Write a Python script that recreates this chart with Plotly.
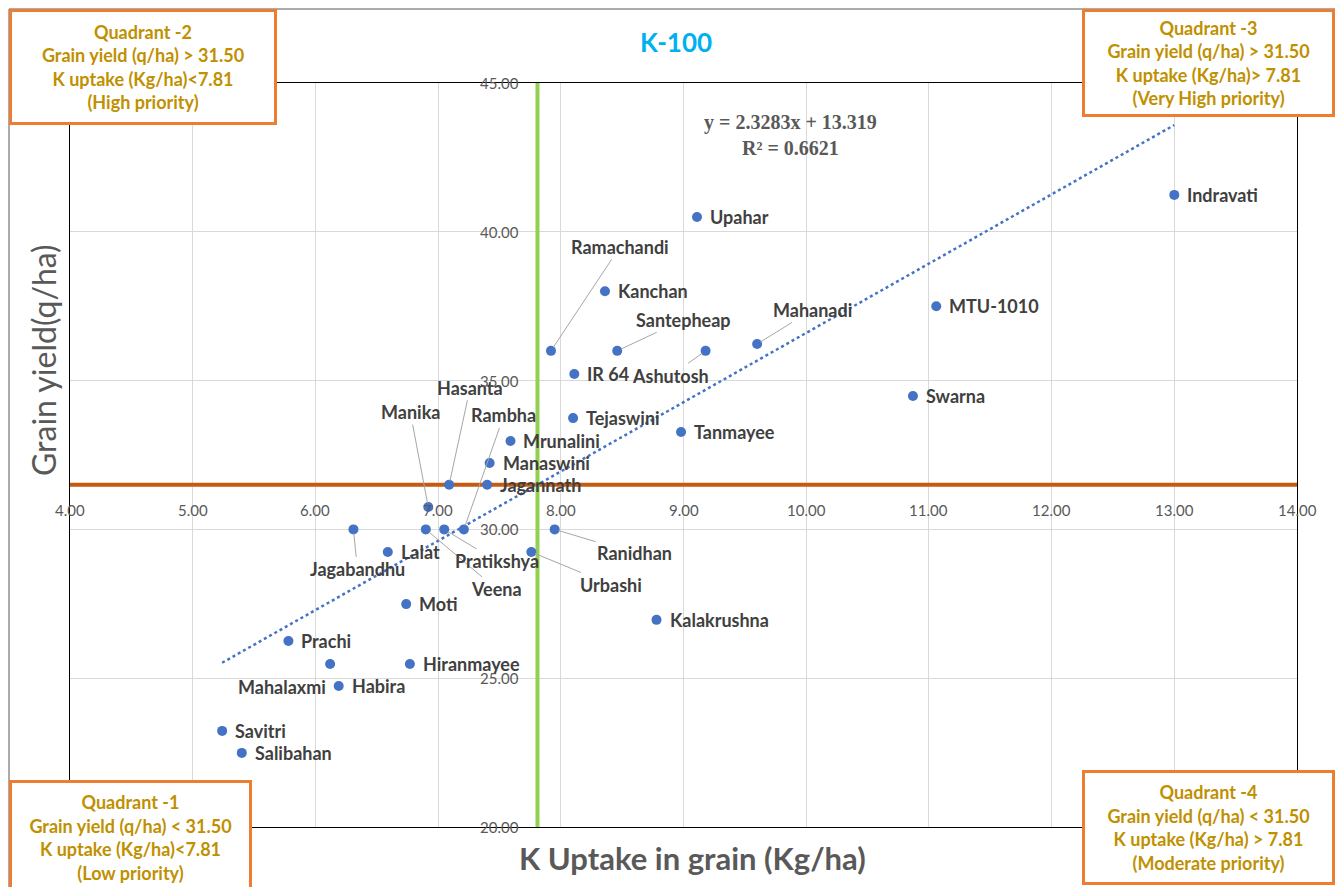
import plotly.graph_objects as go

# ---------------- data ----------------
varieties = ["Indravati", "Upahar", "Ramachandi", "Kanchan", "Santepheap", "Ashutosh",
             "Mahanadi", "MTU-1010", "IR 64", "Swarna", "Tejaswini", "Tanmayee",
             "Mrunalini", "Manaswini", "Jagannath", "Hasanta", "Manika", "Jagabandhu",
             "Veena", "Pratikshya", "Rambha", "Ranidhan", "Urbashi", "Lalat", "Moti",
             "Kalakrushna", "Prachi", "Mahalaxmi", "Hiranmayee", "Habira", "Savitri",
             "Salibahan"]
k_uptake = [13.00, 9.11, 7.92, 8.36, 8.46, 9.18,
            9.60, 11.06, 8.11, 10.87, 8.10, 8.98,
            7.59, 7.42, 7.40, 7.09, 6.92, 6.31,
            6.90, 7.05, 7.21, 7.95, 7.76, 6.59, 6.74,
            8.78, 5.78, 6.12, 6.77, 6.19, 5.24,
            5.40]
grain_yield = [41.24, 40.50, 36.00, 38.00, 36.00, 36.00,
               36.23, 37.50, 35.22, 34.48, 33.74, 33.27,
               32.97, 32.23, 31.50, 31.50, 30.75, 30.00,
               30.00, 30.00, 30.00, 30.00, 29.24, 29.24, 27.49,
               26.96, 26.25, 25.48, 25.48, 24.74, 23.23,
               22.49]

slope, intercept, r2 = 2.3283, 13.319, 0.6621
yield_threshold = 31.50
k_threshold = 7.81

x_ticks = [4, 5, 6, 7, 8, 9, 10, 11, 12, 13, 14]
y_ticks = [20, 25, 30, 35, 40, 45]

# label placement: (dx, dy in px) for labels with leader lines
label_pos = {
    "Ramachandi": (69, -104), "Santepheap": (66, -31),
    "Ashutosh": (-35, 25), "Mahanadi": (55, -34),
    "Hasanta": (21, -97), "Manika": (-18, -95),
    "Rambha": (40, -114), "Jagabandhu": (4, 40),
    "Veena": (71, 60), "Pratikshya": (53, 32),
    "Ranidhan": (80, 24), "Urbashi": (80, 33),
}

# ---------------- geometry helpers ----------------
OFF = 8                      # page body margin
W, H = 1343 - OFF, 887 - OFF
L, R, T, B = 70, 1297, 83, 827   # plot area in page pixels


def px(xp):
    return (xp - L) / (R - L)


def py(yp):
    return (B - yp) / (B - T)


FONT = "Lato"
LABEL_COLOR = "#404040"
TICK_COLOR = "#595959"
BOX_COLOR = "#ED7D31"
BOX_TEXT = "#BF9000"

fig = go.Figure()

# threshold lines
fig.add_trace(go.Scatter(x=[4, 14], y=[yield_threshold, yield_threshold], mode="lines",
                         line=dict(color="#C55A11", width=4), hoverinfo="skip", showlegend=False))
fig.add_trace(go.Scatter(x=[k_threshold, k_threshold], y=[20, 45], mode="lines",
                         line=dict(color="#92D050", width=4), hoverinfo="skip", showlegend=False))

# trendline
x0, x1 = min(k_uptake), max(k_uptake)
fig.add_trace(go.Scatter(x=[x0, x1], y=[slope * x0 + intercept, slope * x1 + intercept],
                         mode="lines", line=dict(color="#4472C4", width=2.5, dash="dot"),
                         hoverinfo="skip", showlegend=False))

# points
fig.add_trace(go.Scatter(x=k_uptake, y=grain_yield, mode="markers", text=varieties,
                         marker=dict(color="#4472C4", size=10), showlegend=False))

annotations = []
for name, xv, yv in zip(varieties, k_uptake, grain_yield):
    lbl_font = dict(family=FONT, size=18, color=LABEL_COLOR, weight="bold")
    if name in label_pos:
        dx, dy = label_pos[name]
        annotations.append(dict(x=xv, y=yv, xref="x", yref="y", text=name, showarrow=True,
                                arrowhead=0, arrowwidth=1, arrowcolor="#A6A6A6",
                                ax=dx, ay=dy, font=lbl_font, standoff=4))
    elif name == "Mahalaxmi":
        annotations.append(dict(x=xv, y=yv, xref="x", yref="y", text=name, showarrow=False,
                                xanchor="right", xshift=-2, yshift=-23, font=lbl_font))
    else:
        annotations.append(dict(x=xv, y=yv, xref="x", yref="y", text=name, showarrow=False,
                                xanchor="left", xshift=11, font=lbl_font))

# tick labels at axis crossings
for t in x_ticks:
    annotations.append(dict(x=t, y=yield_threshold, xref="x", yref="y", text=f"{t:.2f}",
                            showarrow=False, yshift=-25,
                            font=dict(family=FONT, size=15, color=TICK_COLOR)))
for t in y_ticks:
    annotations.append(dict(x=k_threshold, y=t, xref="x", yref="y", text=f"{t:.2f}",
                            showarrow=False, xanchor="right", xshift=-16,
                            font=dict(family=FONT, size=15, color=TICK_COLOR)))

# titles
annotations.append(dict(x=px(676), y=py(42), xref="paper", yref="paper", text="<b>K-100</b>",
                        showarrow=False, xanchor="center", yanchor="middle",
                        font=dict(family=FONT, size=26, color="#00B0F0")))
annotations.append(dict(x=px(693), y=py(858), xref="paper", yref="paper",
                        text="<b>K Uptake in grain (Kg/ha)</b>", showarrow=False,
                        xanchor="center", yanchor="middle",
                        font=dict(family=FONT, size=31, color=TICK_COLOR)))
annotations.append(dict(x=px(43), y=py(360), xref="paper", yref="paper",
                        text="Grain yield(q/ha)", showarrow=False, textangle=-90,
                        xanchor="center", yanchor="middle",
                        font=dict(family=FONT, size=32, color=TICK_COLOR)))
annotations.append(dict(x=px(790), y=py(135), xref="paper", yref="paper",
                        text=f"<b>y = {slope}x + {intercept}<br>R² = {r2}</b>", showarrow=False,
                        xanchor="center", yanchor="middle",
                        font=dict(family="Liberation Serif", size=20, color=TICK_COLOR)))

# quadrant boxes (page pixel extents)
boxes = [
    ("Quadrant -2<br>Grain yield (q/ha) > 31.50<br>K uptake (Kg/ha)<7.81<br>(High priority)",
     9, 277, 9, 125),
    ("Quadrant -3<br>Grain yield (q/ha) > 31.50<br>K uptake (Kg/ha)> 7.81<br>(Very High priority)",
     1082, 1335, 9, 117),
    ("Quadrant -1<br>Grain yield (q/ha) < 31.50<br>K uptake (Kg/ha)<7.81<br>(Low priority)",
     9, 252, 780, 895),
    ("Quadrant -4<br>Grain yield (q/ha) < 31.50<br>K uptake (Kg/ha) > 7.81<br>(Moderate priority)",
     1082, 1335, 770, 885),
]
for text, bx0, bx1, by0, by1 in boxes:
    annotations.append(dict(x=px((bx0 + bx1) / 2), y=py((by0 + by1) / 2), xref="paper",
                            yref="paper", text=f"<b>{text}</b>", showarrow=False,
                            xanchor="center", yanchor="middle",
                            width=bx1 - bx0 - 6, height=by1 - by0 - 6, align="center",
                            valign="middle", bgcolor="white", bordercolor=BOX_COLOR,
                            borderwidth=3, borderpad=0,
                            font=dict(family=FONT, size=18, color=BOX_TEXT)))

shapes = [dict(type="rect", xref="paper", yref="paper", x0=px(9), x1=px(1337), y0=py(900),
               y1=py(9), line=dict(color="#595959", width=1), layer="below")]

fig.update_layout(
    width=W, height=H,
    margin=dict(l=L - OFF, r=(W + OFF) - R, t=T - OFF, b=(H + OFF) - B),
    paper_bgcolor="white", plot_bgcolor="white",
    xaxis=dict(range=[4, 14], tickvals=x_ticks, showticklabels=False, showgrid=True,
               gridcolor="#D9D9D9", gridwidth=1, zeroline=False, showline=True,
               linecolor="black", linewidth=1, mirror=True),
    yaxis=dict(range=[20, 45], tickvals=y_ticks, showticklabels=False, showgrid=True,
               gridcolor="#D9D9D9", gridwidth=1, zeroline=False, showline=True,
               linecolor="black", linewidth=1, mirror=True),
    annotations=annotations,
    shapes=shapes,
)

fig.write_html("out.html")
